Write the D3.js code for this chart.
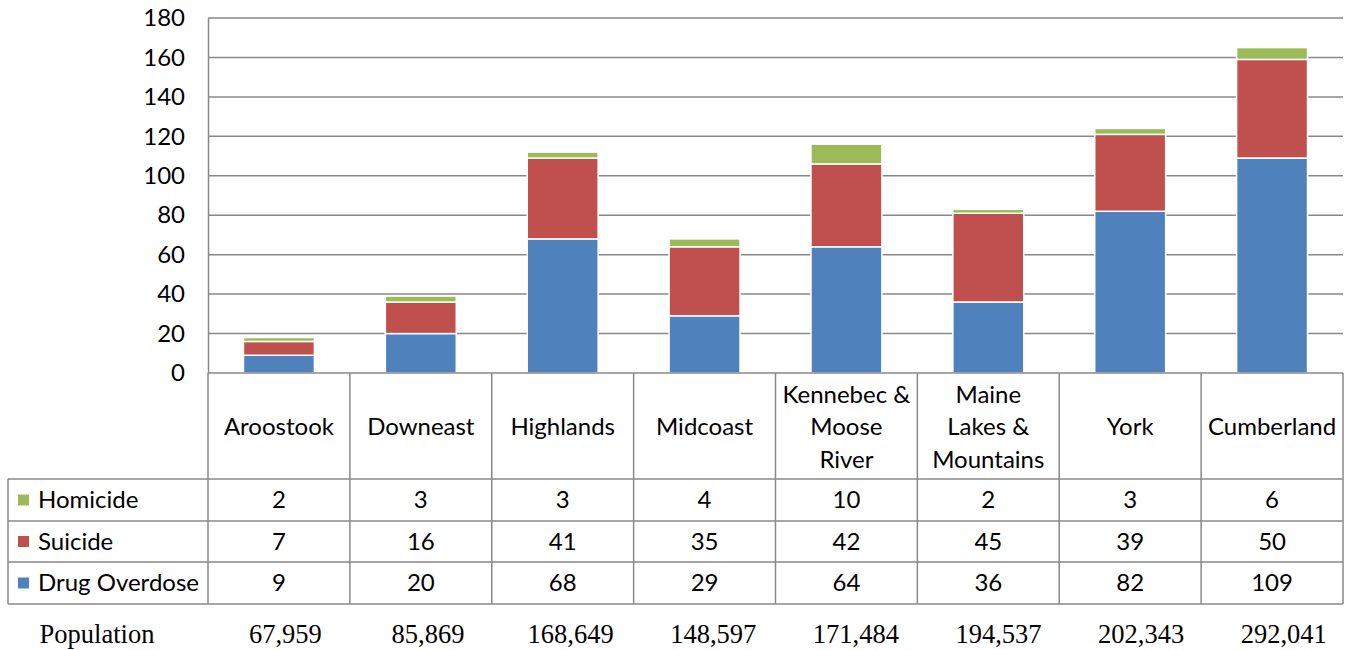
<!DOCTYPE html>
<html>
<head>
<meta charset="utf-8">
<script src="https://cdn.jsdelivr.net/npm/d3@7"></script>
<style>
  html, body { margin: 0; padding: 0; background: #fff; }
  svg { display: block; }
</style>
</head>
<body>
<svg id="chart" width="1349" height="650"></svg>
<script>
// Regions (each label split into display lines)
const regions = [
  ["Aroostook"],
  ["Downeast"],
  ["Highlands"],
  ["Midcoast"],
  ["Kennebec &", "Moose", "River"],
  ["Maine", "Lakes &", "Mountains"],
  ["York"],
  ["Cumberland"]
];
const drugOverdose = [9, 20, 68, 29, 64, 36, 82, 109];
const suicide      = [7, 16, 41, 35, 42, 45, 39, 50];
const homicide     = [2, 3, 3, 4, 10, 2, 3, 6];
const population   = ["67,959", "85,869", "168,649", "148,597", "171,484", "194,537", "202,343", "292,041"];
const yTicks = [0, 20, 40, 60, 80, 100, 120, 140, 160, 180];

const seriesNames  = ["Drug Overdose", "Suicide", "Homicide"];
const seriesColors = ["#4F81BD", "#C0504D", "#9BBB59"];

const svg = d3.select("#chart");
const plotL = 208, plotR = 1343, plotT = 18, plotB = 373;
const gridColor = "#888888";
const font = "Lato, 'Open Sans', sans-serif";
const fs = 24;

const keys = regions.map((d, i) => i);
const x = d3.scaleBand().domain(keys).range([plotL, plotR]).paddingInner(0.5).paddingOuter(0.25);
const xCell = d3.scaleBand().domain(keys).range([plotL, plotR]);
// population line sits under the table on its own, slightly wider spacing
const xPop = d3.scaleBand().domain(keys).range([plotL + 6, plotR + 12]);
const y = d3.scaleLinear().domain([0, 180]).range([plotB, plotT]);

// gridlines
svg.append("g").selectAll("line").data(yTicks.filter(t => t > 0)).join("line")
  .attr("x1", plotL).attr("x2", plotR)
  .attr("y1", d => y(d)).attr("y2", d => y(d))
  .attr("stroke", gridColor).attr("stroke-width", 1.5);

// y axis labels
const yAxis = d3.axisLeft(y).tickValues(yTicks).tickSize(0).tickPadding(23);
const ya = svg.append("g").attr("transform", `translate(${plotL},0)`).call(yAxis);
ya.select(".domain").attr("stroke", gridColor).attr("stroke-width", 1.5);
ya.selectAll("text").attr("font-family", font).attr("font-size", fs).attr("fill", "#000");

// stacked bars
const rows = keys.map(i => ({ i, "Drug Overdose": drugOverdose[i], "Suicide": suicide[i], "Homicide": homicide[i] }));
const stack = d3.stack().keys(seriesNames)(rows);
svg.append("g").selectAll("g").data(stack).join("g")
  .attr("fill", (d, k) => seriesColors[k])
  .selectAll("rect").data(d => d).join("rect")
  .attr("x", d => x(d.data.i))
  .attr("width", x.bandwidth())
  .attr("y", d => y(d[1]))
  .attr("height", d => y(d[0]) - y(d[1]))
  .attr("stroke", "#fff").attr("stroke-width", 1.5);

// data table
const headerBottom = 479;
const rowEdges = [479, 521, 562, 604];
const tableLeft = 8;
const tg = svg.append("g");
const line = (x1, y1, x2, y2) => tg.append("line")
  .attr("x1", x1).attr("y1", y1).attr("x2", x2).attr("y2", y2)
  .attr("stroke", gridColor).attr("stroke-width", 1.5);

line(plotL, plotB, plotR, plotB);
rowEdges.forEach(e => line(tableLeft, e, plotR, e));
line(tableLeft, headerBottom, tableLeft, rowEdges[3]);
line(plotL, plotB, plotL, rowEdges[3]);
keys.forEach(i => line(xCell(i) + xCell.bandwidth(), plotB, xCell(i) + xCell.bandwidth(), rowEdges[3]));

// category header text
const lh = 32.5;
const headerMid = (plotB + headerBottom) / 2 + 1;
keys.forEach(i => {
  const lines = regions[i];
  const cx = xCell(i) + xCell.bandwidth() / 2;
  lines.forEach((t, j) => {
    tg.append("text")
      .attr("x", cx)
      .attr("y", headerMid + (j - (lines.length - 1) / 2) * lh)
      .attr("dy", "0.35em")
      .attr("text-anchor", "middle")
      .attr("font-family", font).attr("font-size", fs).attr("fill", "#000")
      .text(t);
  });
});

// legend rows with values (top row Homicide, then Suicide, then Drug Overdose)
const tableRows = [
  { name: "Homicide", color: seriesColors[2], vals: homicide },
  { name: "Suicide", color: seriesColors[1], vals: suicide },
  { name: "Drug Overdose", color: seriesColors[0], vals: drugOverdose }
];
tableRows.forEach((r, k) => {
  const cy = (rowEdges[k] + rowEdges[k + 1]) / 2;
  tg.append("rect").attr("x", 18).attr("y", cy - 5.5).attr("width", 11).attr("height", 11).attr("fill", r.color);
  tg.append("text").attr("x", 38).attr("y", cy).attr("dy", "0.35em")
    .attr("font-family", font).attr("font-size", fs).attr("fill", "#000").text(r.name);
  keys.forEach(i => {
    tg.append("text")
      .attr("x", xCell(i) + xCell.bandwidth() / 2).attr("y", cy).attr("dy", "0.35em")
      .attr("text-anchor", "middle")
      .attr("font-family", font).attr("font-size", fs).attr("fill", "#000")
      .text(r.vals[i]);
  });
});

// population row
const popY = 634;
const serif = "'Liberation Serif', 'Times New Roman', serif";
tg.append("text").attr("x", 97).attr("y", popY).attr("dy", "0.35em").attr("text-anchor", "middle")
  .attr("font-family", serif).attr("font-size", 26.5).attr("fill", "#000").text("Population");
keys.forEach(i => {
  tg.append("text")
    .attr("x", xPop(i) + xPop.bandwidth() / 2).attr("y", popY).attr("dy", "0.35em")
    .attr("text-anchor", "middle")
    .attr("font-family", serif).attr("font-size", 26.5).attr("fill", "#000")
    .text(population[i]);
});
</script>
</body>
</html>
